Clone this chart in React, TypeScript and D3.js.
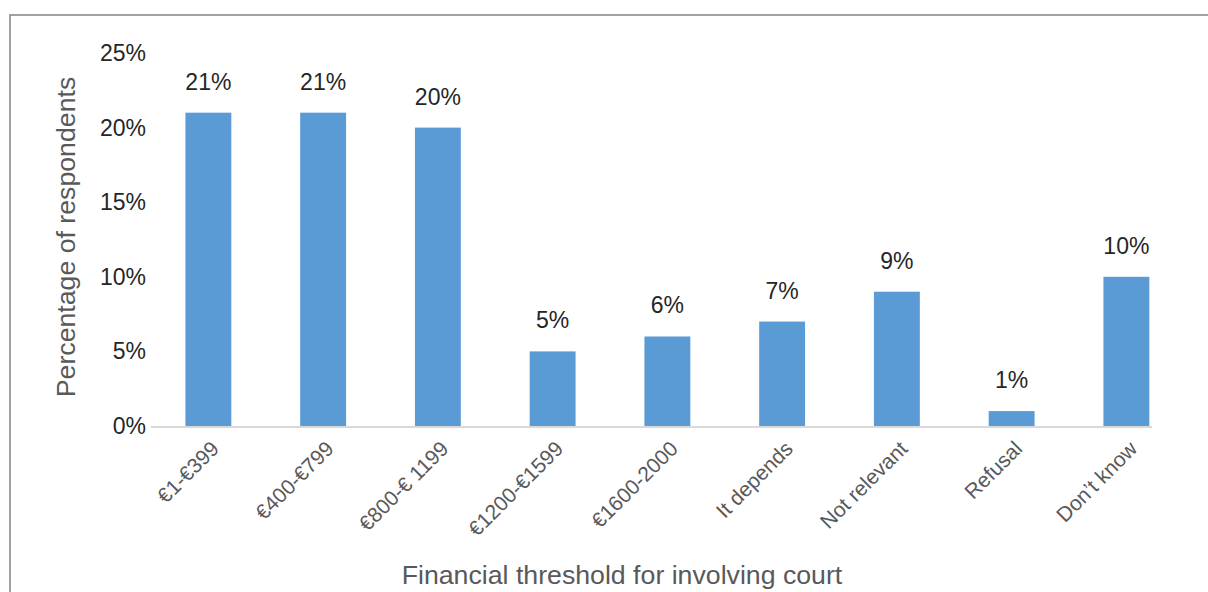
import React from "react";
import * as d3 from "d3";

const categories = ["€1-€399", "€400-€799", "€800-€ 1199", "€1200-€1599", "€1600-2000", "It depends", "Not relevant", "Refusal", "Don’t know"];
const values = [21, 21, 20, 5, 6, 7, 9, 1, 10];
const yTicks = [0, 5, 10, 15, 20, 25];
const yTitle = "Percentage of respondents";
const xTitle = "Financial threshold for involving court";

const W = 1208;
const H = 592;
const FONT = "'Liberation Sans', Arial, sans-serif";

export default function App() {
  const x = d3.scaleBand<string>().domain(categories).range([151, 151 + 9 * 114.75]).paddingInner(0.6).paddingOuter(0.3);
  const y = d3.scaleLinear().domain([0, 25]).range([426, 53]);
  return (
    <svg width={W} height={H} style={{ position: "absolute", left: 0, top: 0, background: "#fff" }} fontFamily={FONT}>
      <rect x={10} y={15} width={1400} height={800} fill="none" stroke="#8a8a8a" strokeWidth={1.6} />
      {yTicks.map((t) => (
        <text key={t} x={146} y={y(t) + 8} textAnchor="end" fontSize={23} fill="#262626">{t}%</text>
      ))}
      {categories.map((c, i) => (
        <rect key={c} x={x(c)} y={y(values[i])} width={x.bandwidth()} height={y(0) - y(values[i])} fill="#5b9bd5" />
      ))}
      <line x1={151} x2={1152} y1={y(0) + 1} y2={y(0) + 1} stroke="#d9d9d9" strokeWidth={2} />
      {categories.map((c, i) => (
        <text key={"v" + c} x={x(c)! + x.bandwidth() / 2} y={y(values[i]) - 23} textAnchor="middle" fontSize={23} fill="#262626">{values[i]}%</text>
      ))}
      {categories.map((c) => {
        const cx = x(c)! + x.bandwidth() / 2;
        return (
          <text key={"l" + c} transform={`translate(${cx + 12},${450}) rotate(-45)`} textAnchor="end" fontSize={21} fill="#595959">{c}</text>
        );
      })}
      <text transform={`translate(75,237) rotate(-90)`} textAnchor="middle" fontSize={26.7} fill="#595959">{yTitle}</text>
      <text x={622} y={584} textAnchor="middle" fontSize={26.7} fill="#595959">{xTitle}</text>
    </svg>
  );
}
